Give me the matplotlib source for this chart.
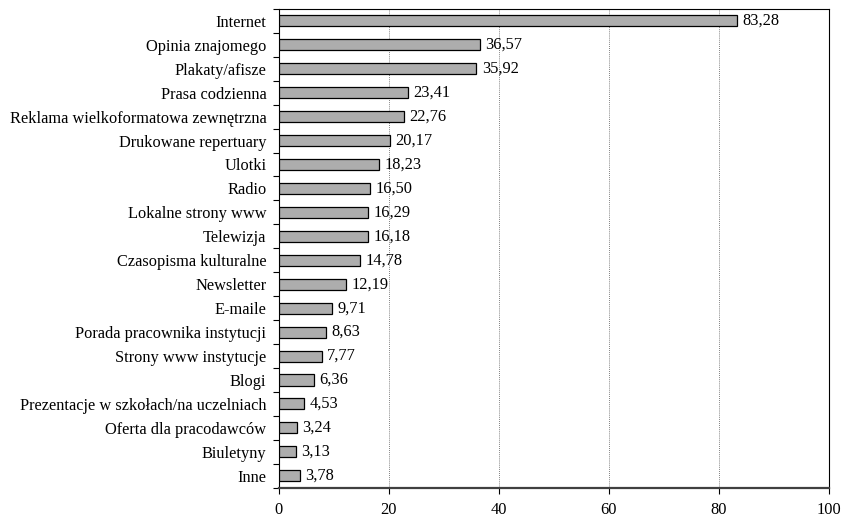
import numpy as np
import matplotlib
matplotlib.use("Agg")
import matplotlib.pyplot as plt

# dane z wykresu (od góry do dołu)
kategorie = ["Internet", "Opinia znajomego", "Plakaty/afisze", "Prasa codzienna",
             "Reklama wielkoformatowa zewnętrzna", "Drukowane repertuary", "Ulotki",
             "Radio", "Lokalne strony www", "Telewizja", "Czasopisma kulturalne",
             "Newsletter", "E-maile", "Porada pracownika instytucji",
             "Strony www instytucje", "Blogi", "Prezentacje w szkołach/na uczelniach",
             "Oferta dla pracodawców", "Biuletyny", "Inne"]
wartosci = [83.28, 36.57, 35.92, 23.41, 22.76, 20.17, 18.23, 16.50, 16.29, 16.18,
            14.78, 12.19, 9.71, 8.63, 7.77, 6.36, 4.53, 3.24, 3.13, 3.78]
xticks = [0, 20, 40, 60, 80, 100]

plt.rcParams['font.family'] = ['Liberation Serif', 'DejaVu Serif']
plt.rcParams['font.size'] = 11.8

fig = plt.figure(figsize=(8.45, 5.2), dpi=100)
ax = fig.add_axes([0.330, 0.062, 0.651, 0.921])

n = len(kategorie)
y = np.arange(n)
ax.barh(y, wartosci, height=0.46, color='#adadad', edgecolor='black', linewidth=0.9, zorder=3)

for yi, v in zip(y, wartosci):
    ax.text(v + 1.0, yi, f"{v:.2f}".replace('.', ','), va='center', ha='left', zorder=4)

ax.set_xlim(0, 100)
ax.set_ylim(n - 0.5, -0.5)
ax.set_xticks(xticks)
ax.set_xticklabels([str(t) for t in xticks])

# etykiety kategorii bez kresek, kreski na granicach
ax.set_yticks(y)
ax.set_yticklabels(kategorie)
ax.tick_params(axis='y', length=0, pad=9)
ax.set_yticks(np.arange(n + 1) - 0.5, minor=True)
ax.tick_params(axis='y', which='minor', length=4, direction='out', width=0.8)
ax.tick_params(axis='x', length=4, direction='out', width=0.8, pad=6)

for g in xticks[1:-1]:
    ax.axvline(g, color='#555555', linestyle=(0, (1, 1.5)), linewidth=0.6, zorder=1)

for s in ax.spines.values():
    s.set_linewidth(0.8)
ax.spines['bottom'].set_linewidth(1.6)
ax.spines['bottom'].set_color('#404040')

fig.savefig("out.png", dpi=100)
